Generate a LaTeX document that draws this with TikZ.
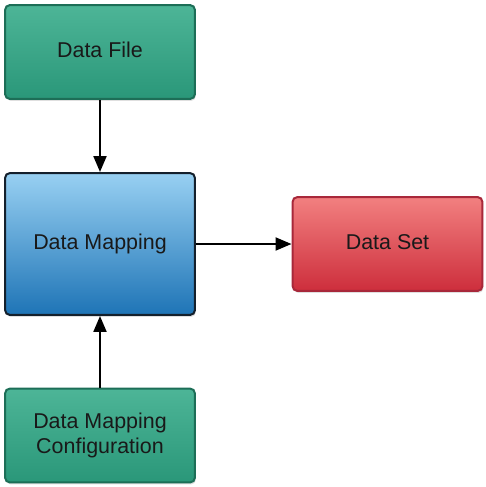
\documentclass[tikz,border=0pt]{standalone}
\usepackage{fontspec}
\setmainfont{Liberation Sans}
\usetikzlibrary{arrows.meta,shadows}

\definecolor{greentop}{HTML}{4DB597}
\definecolor{greenbot}{HTML}{2A9779}
\definecolor{greenrim}{HTML}{1D6E57}
\definecolor{bluetop}{HTML}{98D0F2}
\definecolor{bluebot}{HTML}{1E74B6}
\definecolor{bluerim}{HTML}{14202C}
\definecolor{redtop}{HTML}{F28080}
\definecolor{redbot}{HTML}{CD2E3C}
\definecolor{redrim}{HTML}{A8283A}

\begin{document}
\begin{tikzpicture}[x=0.02cm,y=-0.02cm,
		box/.style={rounded corners=0.1cm,line width=0.04cm,minimum width=3.8cm,minimum height=1.88cm,
			align=center,font=\fontsize{12.2}{14.5}\selectfont,text=black!90,
			drop shadow={shadow xshift=0.02cm,shadow yshift=-0.04cm,opacity=0.25}},
		greenbox/.style={box,draw=greenrim,top color=greentop,bottom color=greenbot},
		bluebox/.style={box,draw=bluerim,top color=bluetop,bottom color=bluebot,minimum height=2.84cm},
		redbox/.style={box,draw=redrim,top color=redtop,bottom color=redbot},
		link/.style={line width=0.04cm,-{Triangle[length=0.32cm,width=0.26cm]}}]
	\useasboundingbox (0,0) rectangle (485,487);
	% boxes
	\node[greenbox] (datafile) at (100,52) {Data File\vphantom{g}};
	\node[bluebox] (mapping) at (100,244) {Data Mapping};
	\node[redbox] (dataset) at (387.5,244) {Data Set\vphantom{g}};
	\node[greenbox] (mappingconf) at (100,435.5) {Data Mapping\\Configuration};
	% connectors
	\draw[link] (datafile) -- (mapping);
	\draw[link] (mappingconf) -- (mapping);
	\draw[link] (mapping) -- (dataset);
\end{tikzpicture}
\end{document}
